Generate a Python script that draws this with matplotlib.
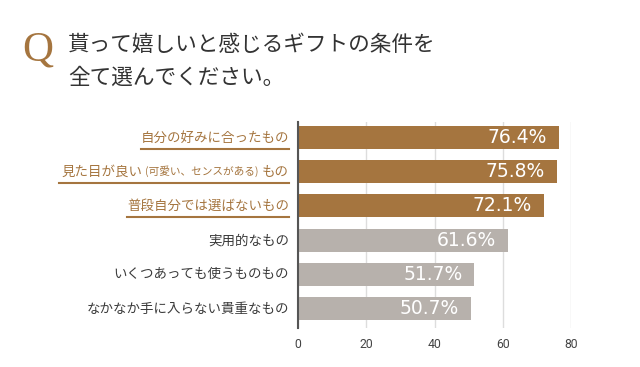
import matplotlib
matplotlib.use("Agg")
import matplotlib.pyplot as plt

plt.rcParams['font.family'] = ['Noto Sans CJK JP', 'DejaVu Sans']

# data (top to bottom)
categories = [
    "自分の好みに合ったもの",
    "見た目が良い(可愛い、センスがある)もの",
    "普段自分では選ばないもの",
    "実用的なもの",
    "いくつあっても使うものもの",
    "なかなか手に入らない貴重なもの",
]
values = [76.4, 75.8, 72.1, 61.6, 51.7, 50.7]
highlight = [True, True, True, False, False, False]
xticks = [0, 20, 40, 60, 80]

LABEL_FS = 9.7
# the second label is drawn in pieces: small text for the bracket part
label_pieces = {
    1: [("見た目が良い", LABEL_FS), ("(可愛い、センスがある)", 7.7), ("もの", LABEL_FS)],
}

BROWN = "#a5753f"
GRAY = "#b7b1ac"
DARK = "#3a3a3a"

fig = plt.figure(figsize=(6.4, 3.67), dpi=100)
W, H = 640, 367
ax = fig.add_axes([298 / W, 1 - 328 / H, (571 - 298) / W, (328 - 122) / H])

ypos = list(range(len(categories)))
colors = [BROWN if h else GRAY for h in highlight]
ax.barh(ypos, values, height=0.67, color=colors, zorder=2)

ax.set_xlim(0, 80)
ax.set_ylim(len(categories) - 1 + 0.57, -0.45)
ax.set_xticks(xticks)
ax.set_xticklabels([str(t) for t in xticks], fontsize=8.8, color="#444444",
                   family="Roboto")
ax.set_yticks([])
ax.tick_params(axis="x", length=0, pad=7)
ax.grid(axis="x", color="#dddddd", linewidth=1, zorder=0)
for s in ["top", "right", "bottom"]:
    ax.spines[s].set_visible(False)
ax.spines["left"].set_color("#555555")
ax.spines["left"].set_linewidth(1.5)
ax.spines["left"].set_zorder(3)

# value labels inside the bars
for y, v in zip(ypos, values):
    ax.annotate(f"{v:.1f}%", xy=(v, y), xytext=(-8.5, 0),
                textcoords="offset points", ha="right", va="center",
                fontsize=13.5, color="white", family="DejaVu Sans", zorder=4)

# category labels, drawn right to left
renderer = fig.canvas.get_renderer()
inv = fig.transFigure.inverted()
x_right = 289
gap = 3
for i, (cat, h) in enumerate(zip(categories, highlight)):
    color = BROWN if h else DARK
    y_px = ax.transData.transform((0, i))[1]
    pieces = label_pieces.get(i, [(cat, LABEL_FS)])
    x = x_right
    for txt, fs in reversed(pieces):
        fx, fy = inv.transform((x, y_px))
        t = fig.text(fx, fy, txt, ha="right", va="center", fontsize=fs,
                     color=color)
        bb = t.get_window_extent(renderer)
        x = bb.x0 - (gap if len(pieces) > 1 else 0)
    if h:
        uy = ax.transData.transform((0, i + 0.335))[1]
        (x0, y0) = inv.transform((x, uy))
        (x1, _) = inv.transform((x_right, uy))
        fig.add_artist(plt.Line2D([x0, x1], [y0, y0], color=BROWN,
                                  linewidth=1.5))

# title
fig.text(22 / W, 1 - 50 / H, "Q", fontsize=31, color=BROWN,
         family="Liberation Serif", ha="left", va="center")
fig.text(68 / W, 1 - 45 / H, "貰って嬉しいと感じるギフトの条件を",
         fontsize=15.6, color="#333333", ha="left", va="center")
fig.text(68 / W, 1 - 78 / H, "全て選んでください。",
         fontsize=15.6, color="#333333", ha="left", va="center")

fig.savefig("out.png", dpi=100)
